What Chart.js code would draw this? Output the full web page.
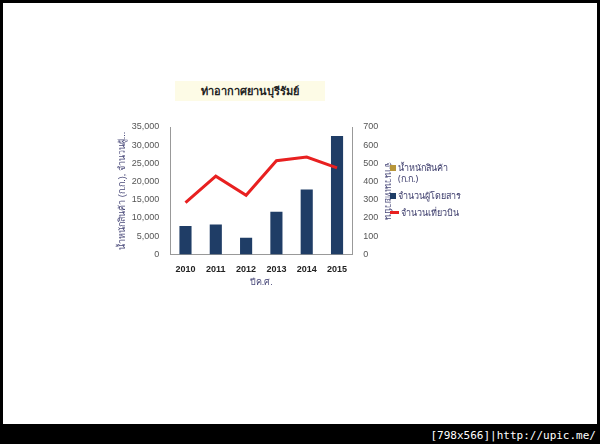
<!DOCTYPE html><html><head><meta charset="utf-8">
<script src="https://cdn.jsdelivr.net/npm/chart.js@4"></script>
<style>
body{margin:0;width:600px;height:444px;background:#000;position:relative;overflow:hidden;font-family:"Noto Sans",sans-serif}
#w{position:absolute;left:3px;top:3px;width:594px;height:421px;background:#fff}
#c{position:absolute;left:0;top:0}
#t{position:absolute;left:175px;top:81px;width:150px;height:20px;background:#fdfbe6;font-weight:bold;font-size:11px;text-align:center;line-height:20px;color:#222}
#lg{position:absolute;left:390px;top:162px;font-size:9px;color:#3a3a6a;line-height:11px}
#lg div{margin-bottom:6px;display:flex;align-items:flex-start}
#lg i{display:inline-block;width:6px;height:6px;margin:3px 2px 0 0}
#ft{position:absolute;right:4px;bottom:2px;color:#fff;font-family:"DejaVu Sans Mono",monospace;font-size:11px}
</style></head><body>
<div id="w"></div>
<canvas id="c" width="600" height="424"></canvas>
<div id="t">ท่าอากาศยานบุรีรัมย์</div>
<div id="lg">
<div><i style="background:#b8963a"></i><span>น้ำหนักสินค้า<br>(ก.ก.)</span></div>
<div><i style="background:#1f3d66"></i><span>จำนวนผู้โดยสาร</span></div>
<div><i style="background:#e82020;width:9px;height:3px;margin-top:4px"></i><span>จำนวนเที่ยวบิน</span></div>
</div>
<div id="ft">[798x566]|http://upic.me/</div>
<script>
const years=['2010','2011','2012','2013','2014','2015'];
const cargo=[0,0,0,0,0,0];
const passengers=[7800,8200,4600,11700,17800,32500];
const flights=[285,430,325,515,535,475];
new Chart(document.getElementById('c'),{
data:{labels:years,datasets:[
{type:'line',label:'จำนวนเที่ยวบิน',data:flights,yAxisID:'y1',borderColor:'#e82020',borderWidth:3,pointRadius:0,order:0},
{type:'bar',label:'น้ำหนักสินค้า (ก.ก.)',data:cargo,backgroundColor:'#b8963a',yAxisID:'y',order:1},
{type:'bar',label:'จำนวนผู้โดยสาร',data:passengers,backgroundColor:'#1f3d66',yAxisID:'y',order:1,grouped:false,barPercentage:0.4,categoryPercentage:1}
]},
options:{responsive:false,animation:false,
layout:{padding:{left:116,right:206,top:127,bottom:136}},
plugins:{legend:{display:false},tooltip:{enabled:false}},
scales:{
x:{grid:{display:false},border:{color:'#999'},ticks:{font:{size:9,weight:'bold'},color:'#222',padding:2},
 title:{display:true,text:'ปีค.ศ.',font:{size:9},color:'#4a4a7a',padding:0}},
y:{min:0,max:35000,ticks:{stepSize:5000,font:{size:9},color:'#555',callback:v=>v.toLocaleString('en-US')},grid:{display:false},border:{color:'#999'},
 title:{display:true,text:'น้ำหนักสินค้า (ก.ก.), จำนวนผู้...',font:{size:9},color:'#4a4a7a',padding:1}},
y1:{position:'right',min:0,max:700,ticks:{stepSize:100,font:{size:9},color:'#555'},grid:{display:false},border:{color:'#999'},
 title:{display:true,text:'จำนวนเที่ยวบิน',font:{size:9},color:'#4a4a7a',padding:1}}
}}});
</script></body></html>
